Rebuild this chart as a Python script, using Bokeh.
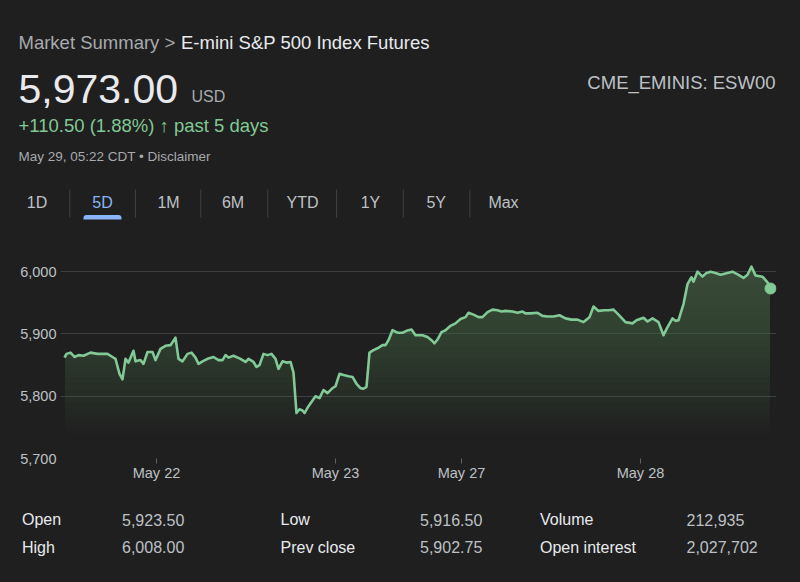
import numpy as np
from bokeh.plotting import figure
from bokeh.layouts import column
from bokeh.models import Range1d, FixedTicker, NumeralTickFormatter
from bokeh.core.properties import value
from bokeh.embed import file_html
from bokeh.resources import INLINE

# ---------------- data ----------------
# time index in ~8-minute bars since the start of the 5-day window
bars = [0, 2, 6, 10, 14, 19, 26, 33, 43, 48,
        51, 53, 55, 58, 61, 64, 69, 71, 76, 79,
        83, 88, 91, 96, 101, 106, 111, 114, 118, 123,
        127, 131, 134, 138, 143, 149, 154, 158, 161, 164,
        169, 176, 181, 184, 189, 192, 195, 199, 203, 207,
        211, 214, 218, 222, 226, 229, 232, 235, 238, 240,
        244, 251, 255, 259, 263, 268, 271, 275, 279, 284,
        288, 292, 296, 299, 302, 305, 309, 313, 318, 321,
        324, 328, 333, 338, 342, 347, 351, 358, 363, 367,
        370, 373, 377, 381, 386, 391, 396, 401, 404, 409,
        414, 418, 423, 428, 433, 437, 441, 448, 453, 458,
        461, 466, 473, 478, 483, 489, 495, 501, 507, 513,
        519, 525, 529, 534, 540, 544, 549, 554, 561, 568,
        572, 579, 583, 588, 594, 599, 603, 608, 611, 614,
        619, 623, 627, 629, 633, 638, 642, 646, 651, 656,
        661, 668, 674, 679, 683, 687, 691, 698, 703, 706]
prices = [5862, 5868, 5870, 5863, 5866, 5865, 5870, 5868, 5868, 5863,
          5860, 5848, 5836, 5827, 5860, 5854, 5873, 5856, 5858, 5852,
          5871, 5871, 5858, 5876, 5881, 5882, 5894, 5860, 5856, 5868,
          5870, 5862, 5852, 5856, 5860, 5863, 5858, 5858, 5866, 5862,
          5865, 5860, 5855, 5860, 5855, 5847, 5850, 5868, 5866, 5868,
          5860, 5844, 5856, 5854, 5855, 5838, 5773, 5779, 5777, 5773,
          5784, 5800, 5797, 5810, 5805, 5813, 5816, 5836, 5834, 5832,
          5831, 5820, 5813, 5812, 5815, 5870, 5874, 5877, 5882, 5882,
          5890, 5906, 5902, 5902, 5905, 5907, 5898, 5898, 5895, 5890,
          5885, 5891, 5903, 5906, 5913, 5917, 5924, 5927, 5934, 5931,
          5927, 5927, 5935, 5939, 5938, 5936, 5937, 5936, 5934, 5936,
          5933, 5933, 5934, 5929, 5928, 5928, 5930, 5925, 5923, 5923,
          5919, 5927, 5944, 5937, 5938, 5938, 5939, 5931, 5919, 5917,
          5922, 5926, 5920, 5925, 5919, 5898, 5911, 5925, 5921, 5922,
          5948, 5980, 5991, 5984, 6000, 5992, 5998, 6000, 5998, 5995,
          5997, 6000, 5995, 5990, 5995, 6008, 5994, 5992, 5983, 5973]
day_ticks = [92, 271, 397, 576]
day_labels = ["May 22", "May 23", "May 27", "May 28"]
price_ticks = [5700, 5800, 5900, 6000]

title_prefix = "Market Summary > "
title_name = "E-mini S&P 500 Index Futures"
last_price = "5,973.00"
currency = "USD"
change_text = "+110.50 (1.88%) \u2191 past 5 days"
timestamp = "May 29, 05:22 CDT \u2022 Disclaimer"
ticker_name = "CME_EMINIS: ESW00"
range_tabs = ["1D", "5D", "1M", "6M", "YTD", "1Y", "5Y", "Max"]
active_tab = "5D"
stat_labels_1 = ["Open", "Low", "Volume"]
stat_values_1 = ["5,923.50", "5,916.50", "212,935"]
stat_labels_2 = ["High", "Prev close", "Open interest"]
stat_values_2 = ["6,008.00", "5,902.75", "2,027,702"]

# ---------------- style ----------------
BG = "#1f1f1f"
FONT = "Liberation Sans"
WHITE = "#e8eaed"
GRAY = "#bdc1c6"
DIM = "#a7aaae"
GREEN = "#81c995"
BLUE = "#8ab4f8"
RULE = "#3c4043"
W = 784


def blank(h, y_top, y_bot):
    f = figure(width=W, height=h, output_backend="svg", toolbar_location=None,
               x_range=Range1d(0, W), y_range=Range1d(y_bot, y_top),
               x_axis_type=None, y_axis_type=None, min_border=0)
    f.grid.visible = False
    f.outline_line_color = None
    f.background_fill_color = BG
    f.border_fill_color = BG
    f.frame_align = False
    return f


def txt(f, x, y, t, size, color, align="left"):
    f.text(x=x, y=y, text=t, text_font=value(FONT), text_font_size=size,
           text_color=color, text_align=align, text_baseline="middle")


# ---------------- header ----------------
head = blank(222, 0, 222)
txt(head, [18], [41.5], [title_prefix], "18.5px", DIM)
txt(head, [180.5], [41.5], [title_name], "18.5px", WHITE)
txt(head, [18], [88], [last_price], "41px", WHITE)
txt(head, [191], [96], [currency], "16px", DIM)
txt(head, [775], [81.7], [ticker_name], "18.5px", GRAY, align="right")
txt(head, [18], [125], [change_text], "18.5px", GREEN)
txt(head, [18], [156], [timestamp], "13.5px", DIM)

tab_x = [36.6, 102, 168, 232.5, 302, 370, 435.7, 503]
tab_cols = [BLUE if t == active_tab else GRAY for t in range_tabs]
head.text(x=tab_x, y=[202] * len(range_tabs), text=range_tabs,
          text_font=value(FONT), text_font_size="16px", text_color=tab_cols,
          text_align="center", text_baseline="middle")
sep_x = [(a + b) / 2 for a, b in zip(tab_x[:-1], tab_x[1:])]
head.segment(x0=sep_x, y0=189, x1=sep_x, y1=217, line_color=RULE, line_width=1)
ai = range_tabs.index(active_tab)
head.quad(left=tab_x[ai] - 19, right=tab_x[ai] + 19, top=214.5, bottom=219,
          fill_color=BLUE, line_color=None, border_radius=(3, 3, 0, 0))

# ---------------- chart ----------------
p = figure(width=W, height=270, output_backend="svg", toolbar_location=None,
           x_range=Range1d(-4, 712), y_range=Range1d(5700, 6034),
           min_border_left=60, min_border_right=8, min_border_top=28,
           min_border_bottom=34)
p.background_fill_color = BG
p.border_fill_color = BG
p.outline_line_color = None
p.frame_align = False

levels = list(range(5740, 6020, 10))
for lv in levels:
    p.varea(x=bars, y1=lv, y2=np.maximum(np.array(prices), lv),
            fill_color=GREEN, fill_alpha=0.014)
p.line(bars, prices, line_color=GREEN, line_width=2.6, line_join="round")
p.scatter(x=[bars[-1]], y=[prices[-1]], size=11, color=GREEN)

p.xgrid.visible = False
p.ygrid.ticker = FixedTicker(ticks=price_ticks)
p.ygrid.grid_line_color = RULE
p.ygrid.grid_line_width = 1.2

p.yaxis.ticker = FixedTicker(ticks=price_ticks)
p.yaxis.formatter = NumeralTickFormatter(format="0,0")
p.yaxis.axis_line_color = None
p.yaxis.major_tick_line_color = None
p.yaxis.major_tick_in = 0
p.yaxis.major_tick_out = 0
p.yaxis.minor_tick_line_color = None
p.yaxis.minor_tick_out = 0
p.yaxis.major_label_standoff = 4
p.yaxis.major_label_text_font = FONT
p.yaxis.major_label_text_font_size = "14.5px"
p.yaxis.major_label_text_color = GRAY

p.xaxis.ticker = FixedTicker(ticks=day_ticks)
p.xaxis.major_label_overrides = {t: l for t, l in zip(day_ticks, day_labels)}
p.xaxis.axis_line_color = None
p.xaxis.major_tick_line_color = "#5f6368"
p.xaxis.major_tick_in = 0
p.xaxis.major_tick_out = 5
p.xaxis.minor_tick_line_color = None
p.xaxis.major_label_standoff = 1
p.xaxis.major_label_text_font = FONT
p.xaxis.major_label_text_font_size = "14.5px"
p.xaxis.major_label_text_color = GRAY

# ---------------- stats ----------------
st = blank(74, 492, 566)
col_lab_x = [21.5, 280, 539.5]
col_val_x = [121.5, 419.5, 686]
txt(st, col_lab_x, [519.2] * 3, stat_labels_1, "16px", WHITE)
txt(st, col_val_x, [519.2] * 3, stat_values_1, "16px", GRAY)
txt(st, col_lab_x, [546.5] * 3, stat_labels_2, "16px", WHITE)
txt(st, col_val_x, [546.5] * 3, stat_values_2, "16px", GRAY)

page = column(head, p, st, spacing=0)
html = file_html(page, INLINE)
html = html.replace("</head>",
                    "<style>html, body { background-color: #1f1f1f; }</style></head>", 1)
open("out.html", "w").write(html)
